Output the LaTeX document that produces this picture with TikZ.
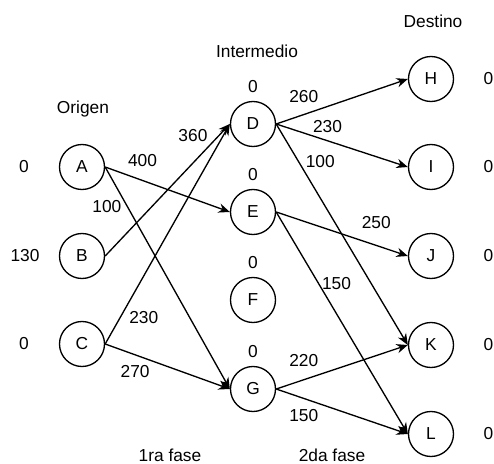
\documentclass[tikz,border=0pt]{standalone}
\usepackage{fontspec}
\setmainfont{Liberation Sans}
\usetikzlibrary{arrows.meta}
\usetikzlibrary{positioning}

\begin{document}
\begin{tikzpicture}[x = 0.75pt, y = -0.75pt, font = \fontsize{13}{15}\selectfont]
	\tikzstyle{nodeStyle}=[shape = circle, minimum size = 33.75pt, inner sep = 0pt, draw, line width = 1pt]
	\tikzstyle{arcStyle}=[-{Stealth[length = 8.5pt, width = 7pt]}, line width = 1pt]
	\tikzstyle{costStyle}=[inner sep = 1pt]
	\useasboundingbox (0,0) rectangle (494,464);
	% origen
	\node[nodeStyle] (A) at (82,167) {A};
	\node[nodeStyle] (B) at (82,256) {B};
	\node[nodeStyle] (C) at (82,344) {C};
	% intermedio
	\node[nodeStyle] (D) at (253,124) {D};
	\node[nodeStyle] (E) at (253,212) {E};
	\node[nodeStyle] (F) at (253,300) {F};
	\node[nodeStyle] (G) at (253,389) {G};
	% destino
	\node[nodeStyle] (H) at (431,79) {H};
	\node[nodeStyle] (I) at (431,167) {I};
	\node[nodeStyle] (J) at (431,256) {J};
	\node[nodeStyle] (K) at (431,345) {K};
	\node[nodeStyle] (L) at (431,434) {L};
	% titulos
	\node (origen) at (83,109) {Origen};
	\node (intermedio) at (257,51) {Intermedio};
	\node (destino) at (433,21) {Destino};
	\node (fase1) at (170,455) {1ra fase};
	\node (fase2) at (332,455) {2da fase};
	% ofertas y demandas
	\node[costStyle] (oA) at (24,167) {0};
	\node[costStyle] (oB) at (25,256) {130};
	\node[costStyle] (oC) at (24,344) {0};
	\node[costStyle, above = 5pt of D] (tD) {0};
	\node[costStyle, above = 5pt of E] (tE) {0};
	\node[costStyle, above = 5pt of F] (tF) {0};
	\node[costStyle, above = 5pt of G] (tG) {0};
	\node[costStyle, anchor = west] (dH) at (482,79) {0};
	\node[costStyle, anchor = west] (dI) at (482,167) {0};
	\node[costStyle, anchor = west] (dJ) at (482,256) {0};
	\node[costStyle, anchor = west] (dK) at (482,345) {0};
	\node[costStyle, anchor = west] (dL) at (482,434) {0};
	% 1ra fase
	\draw[arcStyle] (A.east) -- node[costStyle, pos = 0.30, above = 8.6pt] {400} (E.west);
	\draw[arcStyle] (A.east) -- node[costStyle, pos = 0.18, left = 3.2pt] {100} (G.west);
	\draw[arcStyle] (B.east) -- node[costStyle, pos = 0.91, left = 6.9pt] {360} (D.west);
	\draw[arcStyle] (C.east) -- node[costStyle, pos = 0.12, right = 5.4pt] {230} (D.west);
	\draw[arcStyle] (C.east) -- node[costStyle, pos = 0.24, below = 6.4pt] {270} (G.west);
	% 2da fase
	\draw[arcStyle] (D.east) -- node[costStyle, pos = 0.21, above = 7.1pt] {260} (H.west);
	\draw[arcStyle] (D.east) -- node[costStyle, pos = 0.39, above = 4.6pt] {230} (I.west);
	\draw[arcStyle] (D.east) -- node[costStyle, pos = 0.17, right = 3.9pt] {100} (K.west);
	\draw[arcStyle] (E.east) -- node[costStyle, pos = 0.76, above = 11.3pt] {250} (J.west);
	\draw[arcStyle] (E.east) -- node[costStyle, pos = 0.32, right = 1.3pt] {150} (L.west);
	\draw[arcStyle] (G.east) -- node[costStyle, pos = 0.21, above = 8.6pt] {220} (K.west);
	\draw[arcStyle] (G.east) -- node[costStyle, pos = 0.21, below = 6.9pt] {150} (L.west);
\end{tikzpicture}
\end{document}
